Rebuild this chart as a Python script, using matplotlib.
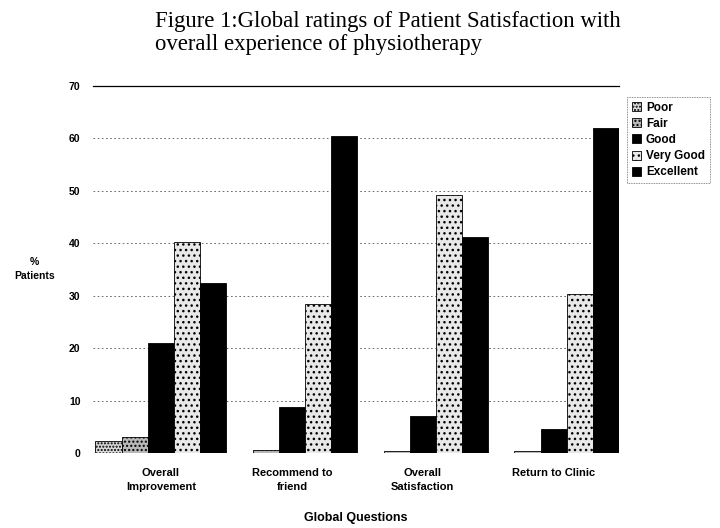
import numpy as np
import matplotlib
matplotlib.use('Agg')
import matplotlib.pyplot as plt

plt.rcParams['font.family'] = ['Liberation Sans', 'DejaVu Sans']

questions = ['Overall\nImprovement', 'Recommend to\nfriend', 'Overall\nSatisfaction', 'Return to Clinic']
ratings = ['Poor', 'Fair', 'Good', 'Very Good', 'Excellent']
poor = [2.2, 0.0, 0.0, 0.0]
fair = [3.1, 0.5, 0.4, 0.4]
good = [21.0, 8.8, 7.0, 4.5]
very_good = [40.3, 28.5, 49.2, 30.4]
excellent = [32.5, 60.5, 41.3, 62.0]

series = [poor, fair, good, very_good, excellent]
FACES = ['#d8d8d8', '#b8b8b8', 'black', '#e8e8e8', 'black']
HATCHES = ['.....', '....', None, '...', None]

fig = plt.figure(figsize=(7.2, 5.28), dpi=100)
ax = fig.add_axes([0.129, 0.142, 0.731, 0.695])

x = np.arange(len(questions))
w = 0.2
for k in range(len(series)):
	pos = x - 0.5 + w / 2 + k * w
	ax.bar(pos, series[k], width=w, color=FACES[k], edgecolor='black', linewidth=0.6,
		hatch=HATCHES[k], label=ratings[k], zorder=3)

ax.set_xlim(-0.52, 3.5)
ax.set_ylim(0, 70)
ax.set_yticks(range(0, 71, 10))
ax.set_xticks(x)
ax.set_xticklabels(questions, fontsize=8, fontweight='bold', linespacing=1.4)
ax.tick_params(axis='y', labelsize=7.5, length=0, pad=9)
ax.tick_params(axis='x', length=0, pad=11)
for lab in ax.get_yticklabels():
	lab.set_fontweight('bold')
ax.grid(axis='y', color='#555555', linestyle=(0, (2, 3)), linewidth=0.6, zorder=0)
for s in ['left', 'right', 'bottom']:
	ax.spines[s].set_visible(False)
ax.spines['top'].set_linewidth(0.9)

ax.set_xlabel('Global Questions', fontsize=9, fontweight='bold', labelpad=15)
fig.text(0.048, 0.49, '%\nPatients', fontsize=7.5, fontweight='bold', ha='center', va='center',
	linespacing=1.5)

fig.text(155 / 720, 1 - 11 / 528, 'Figure 1:Global ratings of Patient Satisfaction with\noverall experience of physiotherapy',
	fontsize=16.4, family='Liberation Serif', ha='left', va='top', linespacing=1.1)

leg = fig.legend(loc='upper left', bbox_to_anchor=(627 / 720, 1 - 97 / 528), fontsize=8.5,
	frameon=True, fancybox=False, borderpad=0.4, handlelength=0.8, handleheight=0.8,
	handletextpad=0.4, labelspacing=0.35, borderaxespad=0)
leg.get_frame().set_edgecolor('#444444')
leg.get_frame().set_linewidth(0.6)
leg.get_frame().set_linestyle((0, (1, 1)))
for t in leg.get_texts():
	t.set_fontweight('bold')

plt.savefig('out.png', dpi=100)
